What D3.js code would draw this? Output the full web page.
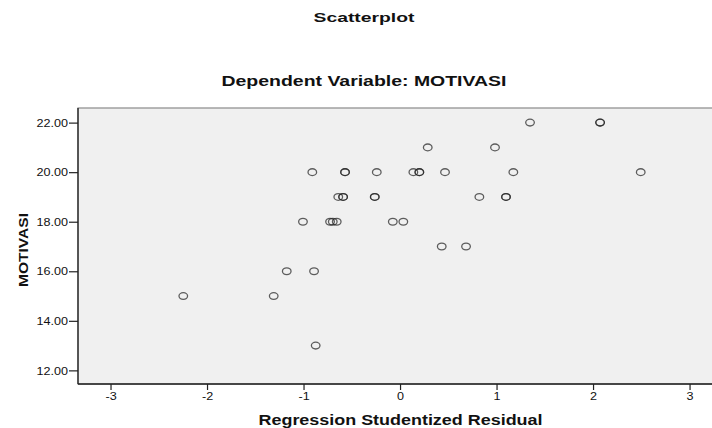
<!DOCTYPE html>
<html>
<head>
<meta charset="utf-8">
<script src="https://cdn.jsdelivr.net/npm/d3@7"></script>
<style>
  html, body { margin: 0; padding: 0; background: #ffffff; }
  svg { display: block; font-family: "Liberation Sans", Arial, sans-serif; }
</style>
</head>
<body>
<svg id="chart" width="712" height="428"></svg>
<script>
// ---- data ----
const residuals = [
  1.347, 2.073, 2.073,
  0.287, 0.984,
  -0.909, -0.570, -0.570, -0.241, 0.138, 0.200, 0.200, 0.466, 1.174, 2.494,
  -0.640, -0.590, -0.590, -0.262, -0.262, 0.822, 1.098, 1.098,
  -1.006, -0.725, -0.697, -0.656, -0.075, 0.034,
  0.432, 0.684,
  -1.174, -0.891,
  -2.246, -1.309,
  -0.874
];
const motivasi = [
  22, 22, 22,
  21, 21,
  20, 20, 20, 20, 20, 20, 20, 20, 20, 20,
  19, 19, 19, 19, 19, 19, 19, 19,
  18, 18, 18, 18, 18, 18,
  17, 17,
  16, 16,
  15, 15,
  13
];
const xTicks = [-3, -2, -1, 0, 1, 2, 3];
const xTickLabels = ["-3", "-2", "-1", "0", "1", "2", "3"];
const yTicks = [12, 14, 16, 18, 20, 22];
const yTickLabels = ["12.00", "14.00", "16.00", "18.00", "20.00", "22.00"];
const titleText = "Scatterplot";
const subtitleText = "Dependent Variable: MOTIVASI";
const xTitle = "Regression Studentized Residual";
const yTitle = "MOTIVASI";

(function () {
// ---- layout ----
const svg = d3.select("#chart");
const pLeft = 78, pRight = 721.4, pTop = 108, pBottom = 384;
const x = d3.scaleLinear().domain([-3.337, 3.33]).range([pLeft, pRight]);
const y = d3.scaleLinear().domain([11.45, 22.59]).range([pBottom, pTop]);
const sx = 1.2; // horizontal stretch of the reference rendering

// plot background
svg.append("rect")
  .attr("x", pLeft).attr("y", pTop)
  .attr("width", pRight - pLeft).attr("height", pBottom - pTop)
  .attr("fill", "#f0f0f0")
  .attr("stroke", "#8a8a8a").attr("stroke-width", 1.2);
svg.append("line").attr("x1", pLeft).attr("x2", pLeft).attr("y1", pTop).attr("y2", pBottom)
  .attr("stroke", "#222").attr("stroke-width", 1.3);
svg.append("line").attr("x1", pLeft).attr("x2", pRight).attr("y1", pBottom).attr("y2", pBottom)
  .attr("stroke", "#222").attr("stroke-width", 1.3);

// y axis
const yAxis = svg.append("g").attr("transform", `translate(${pLeft},0)`)
  .call(d3.axisLeft(y).tickValues(yTicks).tickSize(9).tickPadding(1)
        .tickFormat((d, i) => yTickLabels[i]));
yAxis.select(".domain").remove();
yAxis.selectAll(".tick line").attr("stroke", "#222").attr("stroke-width", 1.2);
yAxis.selectAll(".tick text")
  .attr("x", 0).attr("dy", "0.35em")
  .attr("transform", `translate(-10,0) scale(${sx},1)`)
  .attr("font-size", 10.5).attr("fill", "#111")
  .attr("font-family", "'Liberation Sans', Arial, sans-serif");

// x axis
const xAxis = svg.append("g").attr("transform", `translate(0,${pBottom})`)
  .call(d3.axisBottom(x).tickValues(xTicks).tickSize(6).tickPadding(2)
        .tickFormat((d, i) => xTickLabels[i]));
xAxis.select(".domain").remove();
xAxis.selectAll(".tick line").attr("stroke", "#222").attr("stroke-width", 1.2);
xAxis.selectAll(".tick text")
  .attr("y", 0).attr("dy", 0)
  .attr("transform", `translate(0,16) scale(${sx},1)`)
  .attr("font-size", 10.5).attr("fill", "#111")
  .attr("font-family", "'Liberation Sans', Arial, sans-serif");

// points
const pts = residuals.map((r, i) => ({ r, m: motivasi[i] }));
svg.append("g").selectAll("ellipse").data(pts).enter().append("ellipse")
  .attr("cx", d => x(d.r)).attr("cy", d => y(d.m))
  .attr("rx", 4.3).attr("ry", 3.4)
  .attr("fill", "none")
  .attr("stroke", "#222").attr("stroke-opacity", 0.72).attr("stroke-width", 1.3);

// titles
svg.append("text").text(titleText)
  .attr("x", 364).attr("y", 21.5).attr("text-anchor", "middle")
  .attr("font-weight", "bold").attr("font-size", 13)
  .attr("textLength", 101).attr("lengthAdjust", "spacingAndGlyphs").attr("fill", "#111");
svg.append("text").text(subtitleText)
  .attr("x", 364).attr("y", 85.5).attr("text-anchor", "middle")
  .attr("font-weight", "bold").attr("font-size", 14)
  .attr("textLength", 285).attr("lengthAdjust", "spacingAndGlyphs").attr("fill", "#111");
svg.append("text").text(xTitle)
  .attr("x", 400.5).attr("y", 424.5).attr("text-anchor", "middle")
  .attr("font-weight", "bold").attr("font-size", 14)
  .attr("textLength", 284).attr("lengthAdjust", "spacingAndGlyphs").attr("fill", "#111");
svg.append("text").text(yTitle)
  .attr("transform", "translate(28,250) rotate(-90)")
  .attr("text-anchor", "middle")
  .attr("font-weight", "bold").attr("font-size", 13)
  .attr("textLength", 74).attr("lengthAdjust", "spacingAndGlyphs").attr("fill", "#111");
})();
</script>
</body>
</html>
